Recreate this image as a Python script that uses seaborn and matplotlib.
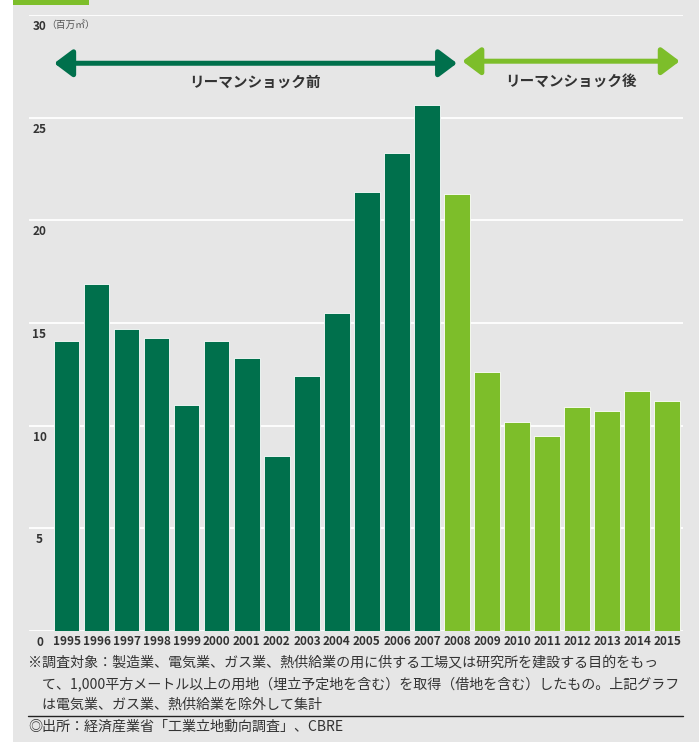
import matplotlib
matplotlib.use('Agg')
import matplotlib.pyplot as plt
import seaborn as sns
import pandas as pd
from matplotlib.patches import Rectangle
from matplotlib.lines import Line2D

# データ（単位：百万㎡）
years = [str(y) for y in range(1995, 2016)]
area = [14.1, 16.9, 14.7, 14.25, 11.0, 14.1, 13.3, 8.5, 12.4, 15.5, 21.4, 23.3, 25.6,
        21.3, 12.6, 10.2, 9.5, 10.9, 10.7, 11.7, 11.2]
period = ['リーマンショック前'] * 13 + ['リーマンショック後'] * 8
yticks = [0, 5, 10, 15, 20, 25, 30]

note_lines = [
    '※調査対象：製造業、電気業、ガス業、熱供給業の用に供する工場又は研究所を建設する目的をもっ',
    '　て、1,000平方メートル以上の用地（埋立予定地を含む）を取得（借地を含む）したもの。上記グラフ',
    '　は電気業、ガス業、熱供給業を除外して集計',
]
source = '◎出所：経済産業省「工業立地動向調査」、CBRE'

DARK = '#00704c'
LIGHT = '#7dbe2a'
BG = '#e6e6e6'
TXT = '#333333'

df = pd.DataFrame({'year': years, 'area': area, 'period': period})

sns.set_theme(style='white')
plt.rcParams['font.family'] = ['Noto Sans CJK JP', 'DejaVu Sans']
NUM_FONT = ['Liberation Sans Narrow', 'Noto Sans CJK JP']

W, H = 699, 742
fig = plt.figure(figsize=(W / 100, H / 100), dpi=100)
fig.patch.set_facecolor('white')
fig.patches.append(Rectangle((13 / W, 0), 1, 1, transform=fig.transFigure,
                             facecolor=BG, edgecolor='none', zorder=-10))
fig.patches.append(Rectangle((13 / W, 1 - 5 / H), 76 / W, 5 / H, transform=fig.transFigure,
                             facecolor=LIGHT, edgecolor='none', zorder=-5))

ax = fig.add_axes([29 / W, 1 - 631 / H, (683 - 29) / W, (631 - 15) / H])
ax.set_facecolor(BG)

sns.barplot(data=df, x='year', y='area', hue='period',
            palette={'リーマンショック前': DARK, 'リーマンショック後': LIGHT},
            dodge=False, width=0.84, edgecolor='white', linewidth=0.6,
            saturation=1, legend=False, ax=ax, zorder=3)

ax.set_xlim(-1.26, 20.53)
ax.set_ylim(0, 30)
ax.set_yticks(yticks)
ax.set_yticklabels([])
ax.tick_params(axis='both', length=0)
ax.grid(axis='y', color='white', linewidth=1.3)
ax.set_axisbelow(True)
for s in ax.spines.values():
    s.set_visible(False)
ax.set_xlabel('')
ax.set_ylabel('')
ax.tick_params(axis='x', pad=3)
for lab in ax.get_xticklabels():
    lab.set_family(NUM_FONT)
    lab.set_fontsize(8.5)
    lab.set_fontweight('bold')
    lab.set_color(TXT)

# 目盛りラベル（グリッド線の下）
ytr = ax.get_yaxis_transform()
for v in yticks:
    ax.annotate(str(v), xy=(0.016, v), xycoords=ytr, xytext=(0, -3.5),
                textcoords='offset points', ha='center', va='top',
                fontsize=8.5, fontweight='bold', color=TXT, family=NUM_FONT)
ax.annotate('（百万㎡）', xy=(0.026, 30), xycoords=ytr, xytext=(0, -3.5),
            textcoords='offset points', ha='left', va='top', fontsize=7, color='#555555')

# 期間を示す矢印
for x0, x1, y, c, lab, xt in [(-0.42, 13.0, 27.65, DARK, period[0], 6.26),
                               (13.18, 20.42, 27.75, LIGHT, period[-1], 16.8)]:
    ax.annotate('', xy=(x1, y), xytext=(x0, y),
                arrowprops=dict(arrowstyle='<|-|>,head_length=1.0,head_width=0.75',
                                color=c, lw=3.6, shrinkA=0, shrinkB=0, mutation_scale=11))
    ax.text(xt, 26.75, lab, ha='center', va='center', fontsize=10.5,
            fontweight='bold', color=TXT)

# 注記
for i, line in enumerate(note_lines):
    fig.text(28 / W, 1 - (663 + 21 * i) / H, line, ha='left', va='center',
             fontsize=10.1, color=TXT)
fig.lines.append(Line2D([28 / W, 683 / W], [1 - 716 / H, 1 - 716 / H],
                        transform=fig.transFigure, color='#222222', lw=1.0))
fig.text(28 / W, 1 - 727 / H, source, ha='left', va='center', fontsize=10.1, color=TXT)

fig.savefig('out.png', dpi=100, facecolor=fig.get_facecolor())
